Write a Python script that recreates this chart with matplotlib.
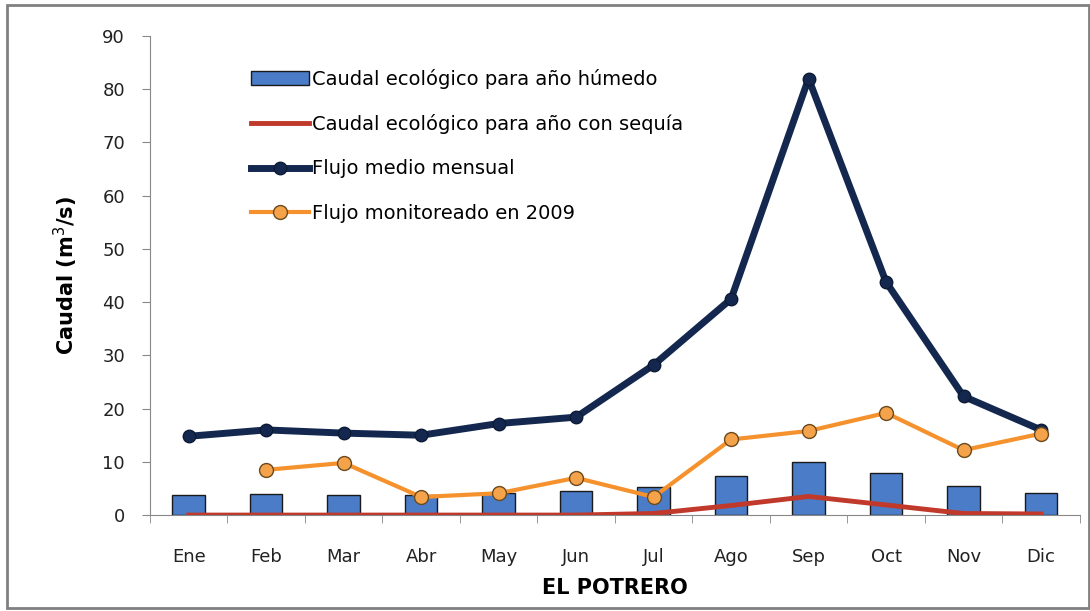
import matplotlib
matplotlib.use("Agg")
import matplotlib.pyplot as plt
from matplotlib.patches import Rectangle
import numpy as np

months = ["Ene", "Feb", "Mar", "Abr", "May", "Jun", "Jul", "Ago", "Sep", "Oct", "Nov", "Dic"]
caudal_humedo = [3.8, 4.0, 3.8, 3.8, 4.2, 4.5, 5.2, 7.4, 9.9, 7.9, 5.5, 4.1]
caudal_sequia = [0.0, 0.0, 0.0, 0.0, 0.0, 0.0, 0.3, 1.8, 3.5, 1.9, 0.3, 0.2]
flujo_medio = [14.8, 16.0, 15.4, 15.0, 17.2, 18.4, 28.2, 40.6, 82.0, 43.8, 22.3, 16.0]
flujo_2009 = [np.nan, 8.5, 9.8, 3.4, 4.1, 7.0, 3.4, 14.2, 15.8, 19.2, 12.2, 15.3]
yticks = [0, 10, 20, 30, 40, 50, 60, 70, 80, 90]

plt.rcParams['font.family'] = ['DejaVu Sans']

fig = plt.figure(figsize=(10.9, 6.11), dpi=100)
fig.patch.set_facecolor('white')
ax = fig.add_axes([0.1376, 0.157, 0.853, 0.784])

x = np.arange(len(months))
b = ax.bar(x, caudal_humedo, width=0.42, color='#4a7cc7', edgecolor='#1a1a1a', linewidth=1.0,
           label='Caudal ecológico para año húmedo', zorder=2)
l1, = ax.plot(x, caudal_sequia, color='#c0392b', lw=3.5, label='Caudal ecológico para año con sequía', zorder=3)
l2, = ax.plot(x, flujo_medio, color='#14284f', lw=5, marker='o', ms=9, mfc='#14284f', mec='#0d1a35',
              label='Flujo medio mensual', zorder=4)
l3, = ax.plot(x, flujo_2009, color='#f5922e', lw=3, marker='o', ms=10, mfc='#f5a34a', mec='#6b4a1e', mew=1,
              label='Flujo monitoreado en 2009', zorder=5)

ax.set_xlim(-0.5, 11.5)
ax.set_ylim(0, 90)
ax.set_yticks(yticks)
ax.set_xticks(x)
ax.set_xticklabels(months)
ax.set_xticks(np.arange(-0.5, 12, 1), minor=True)
ax.tick_params(axis='x', which='major', length=0, pad=24, labelsize=13, colors='#222222')
ax.tick_params(axis='x', which='minor', length=6, color='#888888', direction='out')
ax.tick_params(axis='y', length=6, color='#888888', labelsize=13, pad=12, labelcolor='#222222')
for s in ['top', 'right']:
    ax.spines[s].set_visible(False)
ax.spines['left'].set_color('#888888')
ax.spines['bottom'].set_color('#888888')
ax.set_facecolor('none')

ax.set_ylabel('Caudal (m$^3$/s)', fontsize=15, fontweight='bold', labelpad=16)
ax.set_xlabel('EL POTRERO', fontsize=15, fontweight='bold', labelpad=8)

leg = ax.legend([b, l1, l2, l3], [h.get_label() for h in [b, l1, l2, l3]],
                loc='upper left', bbox_to_anchor=(0.09, 0.968), frameon=False, fontsize=14,
                labelspacing=1.3, handlelength=3.0, handletextpad=0.15)

fig.patches.append(Rectangle((0.006, 0.005), 0.993, 0.987, transform=fig.transFigure,
                             fill=False, edgecolor='#808080', lw=2))

fig.savefig('out.png', dpi=100)
